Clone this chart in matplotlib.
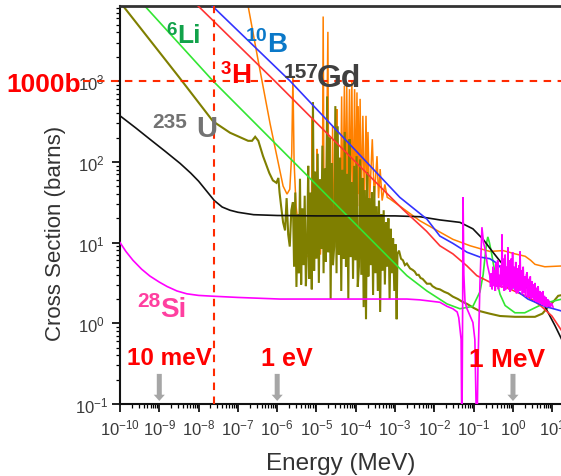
import numpy as np
import matplotlib
matplotlib.use("Agg")
import matplotlib.pyplot as plt
from matplotlib.ticker import LogLocator, NullFormatter

plt.rcParams['font.family'] = ['Liberation Sans', 'DejaVu Sans']
plt.rcParams['mathtext.fontset'] = 'custom'
plt.rcParams['mathtext.rm'] = 'Liberation Sans'
plt.rcParams['mathtext.it'] = 'Liberation Sans:italic'
plt.rcParams['mathtext.bf'] = 'Liberation Sans:bold'

# ---------------------------------------------------------------------------
# Cross-section data, stored as log10(E / MeV) and log10(sigma / barn)
# ---------------------------------------------------------------------------
b10_loge = [-7.80, -5.67, -2.88, -2.19, -1.86, -1.53, -1.17, -0.84, -0.59,
            -0.46, -0.33, 0.05, 0.38, 0.81, 1.25]
b10_logxs = [4.00, 3.00, 1.56, 1.29, 1.08, 0.99, 0.88, 0.82, 0.80,
             0.76, 0.70, 0.42, 0.30, 0.21, 0.15]

h3_loge = [-8.20, -6.06, -2.80, -2.20, -1.86, -1.53, -1.17, -0.92, -0.59,
           -0.33, -0.15, 0.40, 0.70, 0.99, 1.25]
h3_logxs = [4.02, 3.00, 1.41, 1.14, 0.96, 0.86, 0.71, 0.59, 0.51,
            0.46, 0.44, 0.32, 0.22, 0.09, -0.10]

li6_loge = [-9.50, -7.63, -2.70, -2.19, -1.68, -1.35, -1.02, -0.84, -0.76,
            -0.71, -0.67, -0.64, -0.60, -0.55, -0.45, -0.33, -0.20, 0.05,
            0.30, 0.55, 0.81, 1.25]
li6_logxs = [4.00, 3.00, 0.59, 0.40, 0.24, 0.18, 0.21, 0.39, 0.60,
             0.83, 1.00, 1.07, 1.00, 0.88, 0.60, 0.36, 0.22, 0.13,
             0.13, 0.19, 0.25, 0.30]

h1_loge = [-10.0, -9.60, -9.24, -8.85, -8.47, -8.20, -8.00, -7.80, -7.60,
           -7.40, -7.20, -7.00, -6.60, -6.00, -5.00, -3.00, -2.37, -1.86,
           -1.35, -1.02, -0.76, -0.51, -0.33, -0.20, 0.05, 0.18, 0.61,
           0.81, 1.07, 1.25]
h1_logxs = [2.57, 2.42, 2.28, 2.13, 1.98, 1.86, 1.76, 1.64, 1.52,
            1.44, 1.40, 1.375, 1.345, 1.335, 1.33, 1.33, 1.32, 1.28,
            1.25, 1.17, 1.04, 0.88, 0.77, 0.70, 0.55, 0.51, 0.34,
            0.21, -0.03, -0.21]

si28_loge = [-10.0, -9.85, -9.67, -9.45, -9.24, -9.00, -8.80, -8.55, -8.30,
             -8.00, -7.63, -7.00, -5.93, -2.70, -2.37,
             -1.86, -1.68, -1.53, -1.42, -1.38, -1.32, -1.30, -1.28, -1.27,
             -1.25, -1.22, -1.17, -1.02, -0.97, -0.92, -0.89, -0.84, -0.79,
             -0.75, -0.71, -0.65, -0.59,
             -0.57, -0.55, -0.53, -0.51, -0.49, -0.47, -0.45, -0.43, -0.41,
             -0.39, -0.37, -0.35, -0.33, -0.31, -0.29, -0.28, -0.26, -0.24,
             -0.22, -0.20, -0.18, -0.16, -0.14, -0.13, -0.11, -0.09, -0.07,
             -0.05, -0.03, -0.01, 0.01, 0.03, 0.05, 0.07, 0.09, 0.11,
             0.13, 0.15, 0.17, 0.18, 0.20, 0.22, 0.24, 0.26, 0.28,
             0.30, 0.32, 0.34, 0.36, 0.38, 0.40, 0.42, 0.44, 0.46,
             0.48, 0.50, 0.52, 0.54, 0.56, 0.58, 0.60, 0.62, 0.64,
             0.66, 0.68, 0.70, 0.72, 0.74, 0.76, 0.78, 0.80, 0.82,
             0.84, 0.86, 0.88, 0.90, 0.92, 0.95, 0.98, 1.02]
si28_logxs = [1.00, 0.89, 0.78, 0.67, 0.585, 0.51, 0.455, 0.40, 0.365,
              0.345, 0.335, 0.32, 0.30, 0.30, 0.29,
              0.26, 0.21, 0.18, 0.14, 0.07, -0.20, -1.50, 0.30, 1.56,
              0.60, 0.26, 0.18, 0.01, -0.20, -1.50, -0.50, 0.50, 1.19,
              1.00, 0.92, 0.72, 0.59,
              0.45, 0.62, 0.42, 0.70, 0.46, 0.66, 0.40, 0.75, 0.45,
              0.78, 0.42, 0.60, 0.46, 0.72, 0.44, 1.10, 0.48, 0.80,
              0.40, 0.85, 0.42, 0.70, 0.45, 0.94, 0.42, 0.78, 0.39,
              0.80, 0.42, 0.88, 0.44, 0.70, 0.40, 0.76, 0.37, 0.68,
              0.38, 0.72, 0.40, 0.89, 0.42, 0.66, 0.36, 0.70, 0.38,
              0.58, 0.33, 0.60, 0.63, 0.32, 0.55, 0.33, 0.58, 0.30,
              0.52, 0.31, 0.48, 0.28, 0.50, 0.27, 0.44, 0.26, 0.46,
              0.25, 0.40, 0.24, 0.38, 0.23, 0.40, 0.22, 0.34, 0.21,
              0.32, 0.20, 0.30, 0.21, 0.28, 0.20, 0.25, 0.20]

gd157_loge = [-6.90, -6.74, -6.49, -6.18, -5.85, -5.75, -5.68, -5.63, -5.60,
              -5.57, -5.52, -5.42, -5.30, -5.20, -5.13, -5.11, -5.09, -5.03,
              -5.00, -4.99, -4.97, -4.90, -4.85, -4.83, -4.81, -4.76, -4.71,
              -4.69, -4.62, -4.59, -4.56, -4.50, -4.48, -4.46, -4.40, -4.36,
              -4.33, -4.29, -4.26, -4.23, -4.20, -4.16, -4.13, -4.10, -4.07,
              -4.03, -4.00, -3.97, -3.955, -3.94, -3.91, -3.89, -3.86, -3.82,
              -3.78, -3.74, -3.71, -3.69, -3.65, -3.58, -3.53, -3.46, -3.42,
              -3.38, -3.33, -3.26, -3.20, -3.13, -2.37, -1.86, -1.53, -1.09,
              -0.59, -0.25, 0.05, 0.31, 0.45, 0.56, 0.81, 1.25]
gd157_logxs = [4.20, 3.93, 3.27, 2.47, 1.70, 1.60, 1.66, 2.10, 3.06,
               2.00, 1.45, 1.05, 0.86, 0.82, 1.30, 2.53, 1.20, 0.80,
               1.30, 2.16, 1.10, 0.85, 1.50, 3.80, 1.60, 1.30, 3.61,
               1.40, 0.88, 2.44, 1.10, 1.30, 2.65, 1.20, 0.88, 2.81,
               1.30, 2.94, 1.40, 2.94, 1.30, 2.90, 1.40, 2.99, 1.35,
               2.90, 1.50, 2.86, 1.60, 2.69, 1.45, 2.78, 1.50, 2.57,
               1.45, 2.57, 1.55, 2.37, 1.50, 2.28, 1.55, 2.07, 1.55,
               1.91, 1.52, 1.72, 1.56, 1.54, 1.27, 1.13, 1.04, 0.96,
               0.89, 0.90, 0.86, 0.83, 0.78, 0.73, 0.70, 0.71]

u235_loge = [-10.05, -9.92, -8.50, -7.63, -7.20, -6.74, -6.64, -6.56, -6.48,
             -6.36, -6.20, -6.11, -6.02, -5.97, -5.94, -5.90, -5.85, -5.80,
             -5.76, -5.72, -5.68, -5.64,
             -5.60, -5.57, -5.54, -5.51, -5.48, -5.45, -5.42, -5.39, -5.36,
             -5.33, -5.30, -5.27, -5.24, -5.21, -5.18, -5.15, -5.12, -5.09,
             -5.06, -5.03, -5.00, -4.97, -4.94, -4.91, -4.88, -4.85, -4.82,
             -4.79, -4.76, -4.73, -4.70, -4.67, -4.64, -4.61, -4.58, -4.55,
             -4.52, -4.49, -4.46, -4.43, -4.40, -4.37, -4.34, -4.31, -4.28,
             -4.25, -4.22, -4.19, -4.16, -4.13, -4.10, -4.07, -4.04, -4.01,
             -3.98, -3.95, -3.92, -3.89, -3.86, -3.83, -3.80, -3.77, -3.74,
             -3.71, -3.68, -3.65, -3.62, -3.59, -3.56, -3.53, -3.50, -3.47,
             -3.44, -3.41, -3.38, -3.35, -3.32, -3.29, -3.26, -3.23, -3.20,
             -3.17, -3.14, -3.11, -3.08, -3.05, -3.02, -2.99, -2.96, -2.94,
             -2.90, -2.85, -2.80, -2.75, -2.70, -2.62, -2.55, -2.50, -2.45,
             -2.40, -2.35, -2.30, -2.19, -2.10, -2.05, -1.95, -1.86, -1.75,
             -1.65, -1.53, -1.40, -1.30, -1.17, -1.00, -0.84, -0.60, -0.33,
             0.05, 0.30, 0.56, 0.75, 0.89, 1.05, 1.15, 1.25]
u235_logxs = [4.01, 3.93, 3.05, 2.50, 2.36, 2.26, 2.26, 2.31, 2.26,
              2.07, 1.86, 1.77, 1.74, 1.80, 1.62, 1.45, 1.25, 1.15,
              1.55, 1.10, 0.95, 1.40,
              1.50, 0.70, 1.62, 0.45, 1.35, 0.62, 1.79, 0.48, 1.42,
              0.72, 1.58, 0.46, 0.90, 1.95, 0.55, 1.62, 0.42, 2.74,
              0.65, 1.88, 0.80, 2.10, 0.50, 1.78, 0.92, 2.20, 0.62,
              1.92, 0.76, 2.81, 0.88, 2.30, 0.30, 1.98, 0.72, 0.95,
              2.69, 0.62, 2.44, 0.85, 2.05, 0.40, 1.90, 0.80, 2.37,
              0.70, 1.85, 0.30, 2.28, 0.82, 1.75, 0.55, 1.95, 0.78,
              2.07, 0.45, 0.70, 2.03, 0.60, 1.80, 0.20, 1.65, 0.05,
              1.87, 0.58, 1.55, 0.72, 1.62, 0.35, 1.70, 0.62, 1.45,
              0.40, 1.52, 0.14, 1.35, 0.65, 1.40, 0.48, 1.25, 0.70,
              1.30, 0.30, 1.17, 0.62, 1.05, 0.40, 0.98, 0.05, 0.86,
              0.90, 0.80, 0.78, 0.72, 0.74, 0.68, 0.66, 0.64, 0.60,
              0.60, 0.56, 0.55, 0.49, 0.49, 0.46, 0.43, 0.42, 0.39,
              0.37, 0.33, 0.30, 0.27, 0.24, 0.19, 0.15, 0.12, 0.09,
              0.08, 0.08, 0.08, 0.12, 0.20, 0.28, 0.34, 0.35]

# reference lines: thermal energy and the 1000 b level
thermal_energy = 2.53e-8      # MeV
level_1000b = 1000.0          # barn
# energies flagged with arrows and their labels
marker_energies = [1e-9, 1e-6, 1e0]
marker_labels = ["10 meV", "1 eV", "1 MeV"]

W, H = 561, 477
fig = plt.figure(figsize=(W / 100, H / 100), dpi=100)
ax = fig.add_axes([120 / W, 72 / H, 441 / W, 398 / H])
ax.set_xscale('log')
ax.set_yscale('log')
ax.set_xlim(1e-10, 10 ** 1.222)
ax.set_ylim(0.1, 10 ** 3.93)


def curve(loge, logxs, color, lw=1.2, z=2):
    ax.plot(10 ** np.asarray(loge), 10 ** np.asarray(logxs), color=color,
            lw=lw, zorder=z, solid_joinstyle='miter')


curve(gd157_loge, gd157_logxs, '#ff8000', lw=1.1, z=2)
curve(u235_loge, u235_logxs, '#7f7f00', lw=1.5, z=2.2)
curve(li6_loge, li6_logxs, '#33e633', z=2.5)
curve(h1_loge, h1_logxs, '#111111', z=2.6)
curve(h3_loge, h3_logxs, '#ff3333', z=2.7)
curve(b10_loge, b10_logxs, '#3333ff', z=2.8)
curve(si28_loge, si28_logxs, '#ff00ff', z=3)

# dashed guides
dash = (0, (3.6, 3.1))
ax.plot([10 ** -10.94, 100], [level_1000b, level_1000b], color='#ff2a00',
        lw=1.5, ls=dash, clip_on=False, zorder=5)
ax.axvline(thermal_energy, color='#ff2a00', lw=1.5, ls=dash, zorder=5)

# arrows pointing at the marked energies
for e in marker_energies:
    ax.annotate('', xy=(e, 0.109), xytext=(e, 0.236),
                arrowprops=dict(arrowstyle='simple,head_width=0.8,head_length=0.45,tail_width=0.36',
                                color='#a6a6a6', lw=0, shrinkA=0, shrinkB=0),
                zorder=4)

# axes styling
for side in ('left', 'bottom'):
    ax.spines[side].set_linewidth(1.5)
    ax.spines[side].set_color('#111111')
ax.spines['top'].set_linewidth(2.0)
ax.spines['top'].set_color('#333333')
ax.spines['right'].set_visible(False)

ax.xaxis.set_major_locator(LogLocator(base=10, numticks=30))
ax.xaxis.set_minor_locator(LogLocator(base=10, subs=np.arange(2, 10), numticks=300))
ax.xaxis.set_minor_formatter(NullFormatter())
ax.yaxis.set_major_locator(LogLocator(base=10, numticks=30))
ax.yaxis.set_minor_locator(LogLocator(base=10, subs=np.arange(2, 10), numticks=300))
ax.yaxis.set_minor_formatter(NullFormatter())

ax.tick_params(which='major', direction='out', length=5.5, width=1.2,
               labelsize=12, labelcolor='#3a3a3a', top=False, right=False)
ax.tick_params(which='minor', direction='out', length=3, width=0.9,
               top=False, right=False)
ax.tick_params(axis='x', which='major', pad=4)
ax.tick_params(axis='y', which='major', pad=15)
for lab in ax.get_yticklabels():
    lab.set_horizontalalignment('center')

ax.set_xlabel('Energy (MeV)', fontsize=17.5, color='#333333', va='top')
ax.xaxis.set_label_coords(0.5, -0.12)
ax.set_ylabel('Cross Section (barns)', fontsize=16, color='#333333', va='bottom')
ax.yaxis.set_label_coords(-0.122, 0.43)


def label(x, y, s, size, color):
    fig.text(x / W, 1 - y / H, s, fontsize=size, color=color,
             fontweight='bold', ha='left', va='baseline', zorder=6)


label(166, 35, '6', 13.5, '#12a24a')
label(177, 43, 'Li', 19, '#12a24a')
label(246, 41, '10', 14, '#0a78c8')
label(267, 52, 'B', 20, '#0a78c8')
label(221, 74, '3', 13.5, '#ff0000')
label(231, 83, 'H', 20, '#ff0000')
label(284, 78, '157', 15, '#404040')
label(317, 87, 'Gd', 23, '#404040')
label(152, 128, '235', 15, '#737373')
label(196, 137, 'U', 21, '#737373')
label(137, 307, '28', 15, '#ff3fa0')
label(160, 317, 'Si', 20, '#ff3fa0')
label(6, 92, '1000b', 19, '#ff0000')
label(127, 365, marker_labels[0], 17.5, '#ff0000')
label(261, 366, marker_labels[1], 18, '#ff0000')
label(469, 367, marker_labels[2], 19, '#ff0000')

fig.savefig('out.png', dpi=100)
